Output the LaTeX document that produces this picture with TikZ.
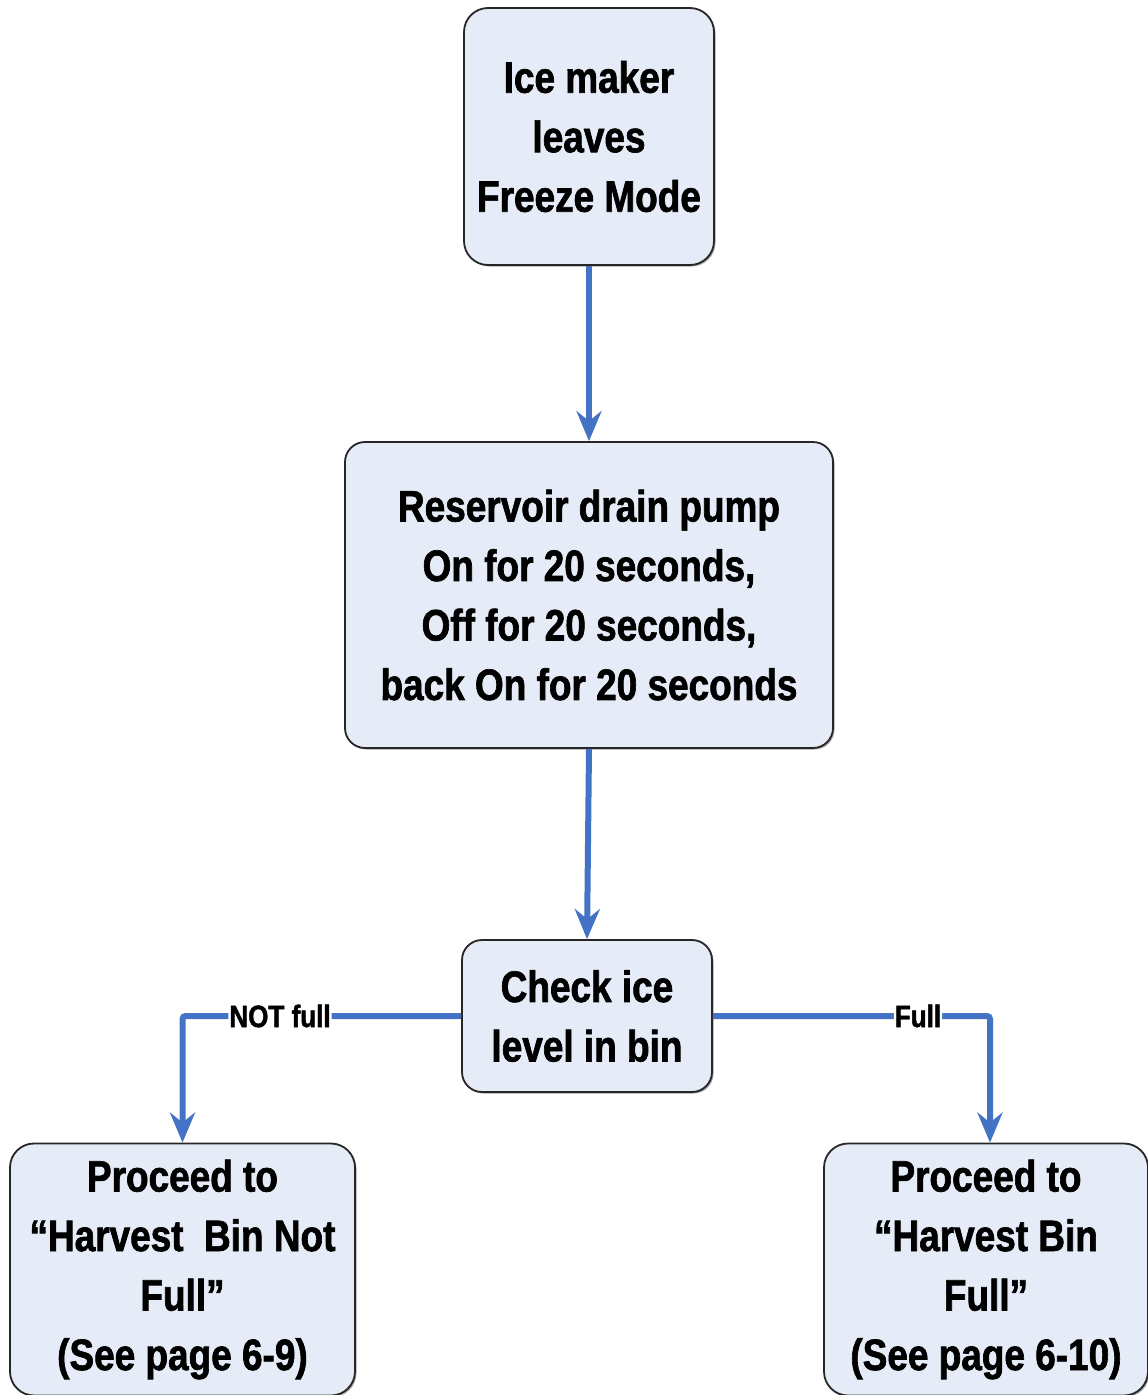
\documentclass[tikz,border=0pt]{standalone}
\usepackage{fontspec}
\setmainfont{Liberation Sans}[FakeStretch=0.84, BoldFeatures={FakeBold=1.5}]
\usetikzlibrary{arrows.meta,shadows}
\definecolor{boxfill}{HTML}{E6ECF7}
\definecolor{lineblue}{HTML}{4472C4}
\tikzset{
  box/.style={draw=black!85, line width=1.8pt, fill=boxfill, rounded corners=24pt,
    align=center, inner sep=0pt,
    font=\bfseries\fontsize{44}{59.5}\selectfont,
    drop shadow={shadow xshift=1.5pt, shadow yshift=-1.5pt, fill=black!60, opacity=0.6}},
  conn/.style={draw=lineblue, line width=6pt, rounded corners=3pt,
    -{Stealth[length=30pt, width=25pt, inset=10pt]}},
  lbl/.style={fill=white, inner sep=1pt, text=black,
    font=\bfseries\fontsize{31}{33}\selectfont}
}
\begin{document}
\begin{tikzpicture}[x=1pt, y=-1pt]
\useasboundingbox (0,0) rectangle (1148,1395);
\fill[white] (0,0) rectangle (1148,1395);
\node[box, minimum width=250pt, minimum height=257pt] (a) at (589,136.5)
  {Ice maker\\leaves\\Freeze Mode};
\node[box, minimum width=488pt, minimum height=306pt, rounded corners=20pt] (b) at (589,595)
  {Reservoir drain pump\\On for 20 seconds,\\Off for 20 seconds,\\back On for 20 seconds};
\node[box, minimum width=250pt, minimum height=152pt, rounded corners=20pt] (c) at (587,1016)
  {Check ice\\level in bin};
\node[box, minimum width=345pt, minimum height=252pt] (d) at (182.5,1269.5)
  {Proceed to\\\textquotedblleft Harvest\ \ Bin Not\\Full\textquotedblright\\(See page 6-9)};
\node[box, minimum width=324pt, minimum height=252pt] (e) at (986,1269.5)
  {Proceed to\\\textquotedblleft Harvest Bin\\Full\textquotedblright\\(See page 6-10)};
\draw[conn] (a) -- (b);
\draw[conn] (b.south) -- (c.north);
\draw[conn] (c.west) -| node[lbl, pos=0.325] (l1) {NOT full} (d.north);
\draw[conn] (c.east) -| node[lbl, pos=0.37] (l2) {Full} ([xshift=4pt]e.north);
\end{tikzpicture}
\end{document}
